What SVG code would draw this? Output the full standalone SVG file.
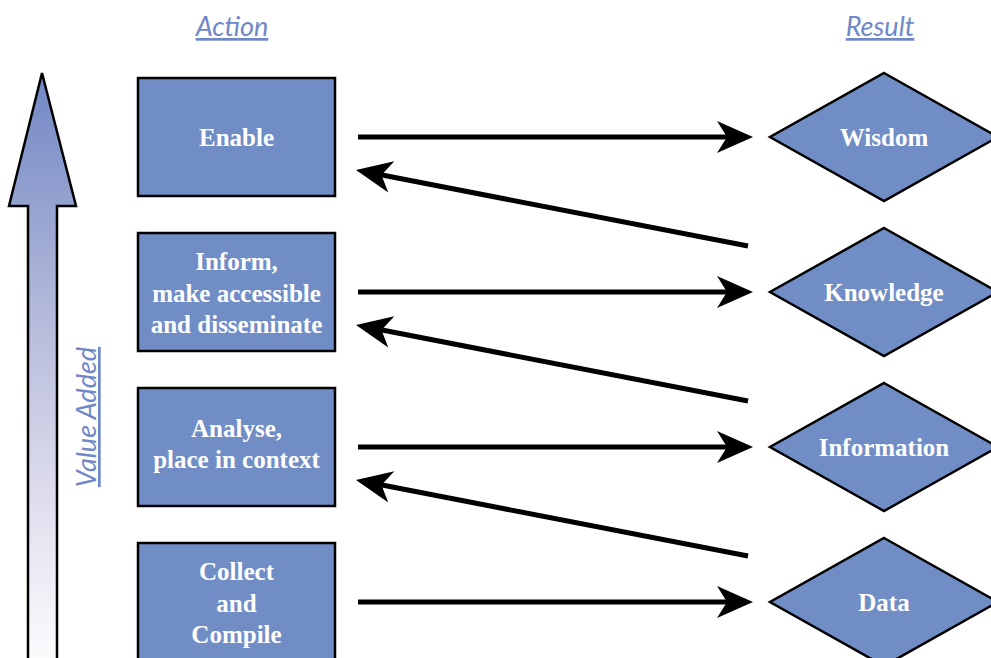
<svg xmlns="http://www.w3.org/2000/svg" width="991" height="658" viewBox="0 0 991 658">
<defs>
<linearGradient id="vg" x1="0" y1="73" x2="0" y2="658" gradientUnits="userSpaceOnUse">
<stop offset="0" stop-color="#7187c4"/>
<stop offset="0.45" stop-color="#b9bedc"/>
<stop offset="0.75" stop-color="#e2e0ef"/>
<stop offset="1" stop-color="#fbfbfd"/>
</linearGradient>
<marker id="ah" markerUnits="userSpaceOnUse" markerWidth="38" markerHeight="34" viewBox="-17 -17 38 34" refX="0" refY="0" orient="auto">
<path d="M20,0 L-16,-16 L-6,0 L-16,16 Z" fill="#000"/>
</marker>
<style>
.box{fill:#718dc5;stroke:#000;stroke-width:2.5}
.lbl{font-family:"Liberation Serif",serif;font-weight:bold;font-size:25px;fill:#fff;text-anchor:middle}
.hdr{font-family:"Lato","Open Sans",sans-serif;font-style:italic;font-size:27px;fill:#7088c8;text-anchor:middle;text-decoration:underline}
.con{stroke:#000;stroke-width:5;fill:none;marker-end:url(#ah)}
</style>
</defs>
<rect width="991" height="658" fill="#fff"/>
<text class="hdr" x="232" y="36">Action</text>
<text class="hdr" x="880" y="36">Result</text>
<g id="value-arrow">
<path d="M42,73 L76,206 L57,206 L57,662 L28,662 L28,206 L9,206 Z" fill="url(#vg)" stroke="#000" stroke-width="2.5" stroke-linejoin="miter"/>
<text class="hdr" transform="translate(96,417) rotate(-90)">Value Added</text>
</g>
<g id="enable"><rect class="box" x="138" y="78" width="197" height="118"/><text class="lbl" x="236.5" y="146">Enable</text></g>
<g id="inform"><rect class="box" x="138" y="233" width="197" height="118"/><text class="lbl" x="236.5" y="270">Inform,</text><text class="lbl" x="236.5" y="302">make accessible</text><text class="lbl" x="236.5" y="333">and disseminate</text></g>
<g id="analyse"><rect class="box" x="138" y="388" width="197" height="118"/><text class="lbl" x="236.5" y="437">Analyse,</text><text class="lbl" x="236.5" y="468">place in context</text></g>
<g id="collect"><rect class="box" x="138" y="543" width="197" height="125"/><text class="lbl" x="236.5" y="580">Collect</text><text class="lbl" x="236.5" y="612">and</text><text class="lbl" x="236.5" y="643">Compile</text></g>
<g id="wisdom"><path class="box" d="M884,73 L998,137 L884,201 L770,137 Z"/><text class="lbl" x="884" y="146">Wisdom</text></g>
<g id="knowledge"><path class="box" d="M884,228 L998,292 L884,356 L770,292 Z"/><text class="lbl" x="884" y="301">Knowledge</text></g>
<g id="information"><path class="box" d="M884,383 L998,447 L884,511 L770,447 Z"/><text class="lbl" x="884" y="456">Information</text></g>
<g id="data"><path class="box" d="M884,538 L998,602 L884,666 L770,602 Z"/><text class="lbl" x="884" y="611">Data</text></g>
<g id="connectors">
<line class="con" x1="358" y1="137" x2="733" y2="137"/>
<line class="con" x1="358" y1="292" x2="733" y2="292"/>
<line class="con" x1="358" y1="447" x2="733" y2="447"/>
<line class="con" x1="358" y1="602" x2="733" y2="602"/>
<line class="con" x1="748" y1="246" x2="375.6" y2="173.8"/>
<line class="con" x1="748" y1="401" x2="375.6" y2="328.8"/>
<line class="con" x1="748" y1="556" x2="375.6" y2="483.8"/>
</g>
</svg>
